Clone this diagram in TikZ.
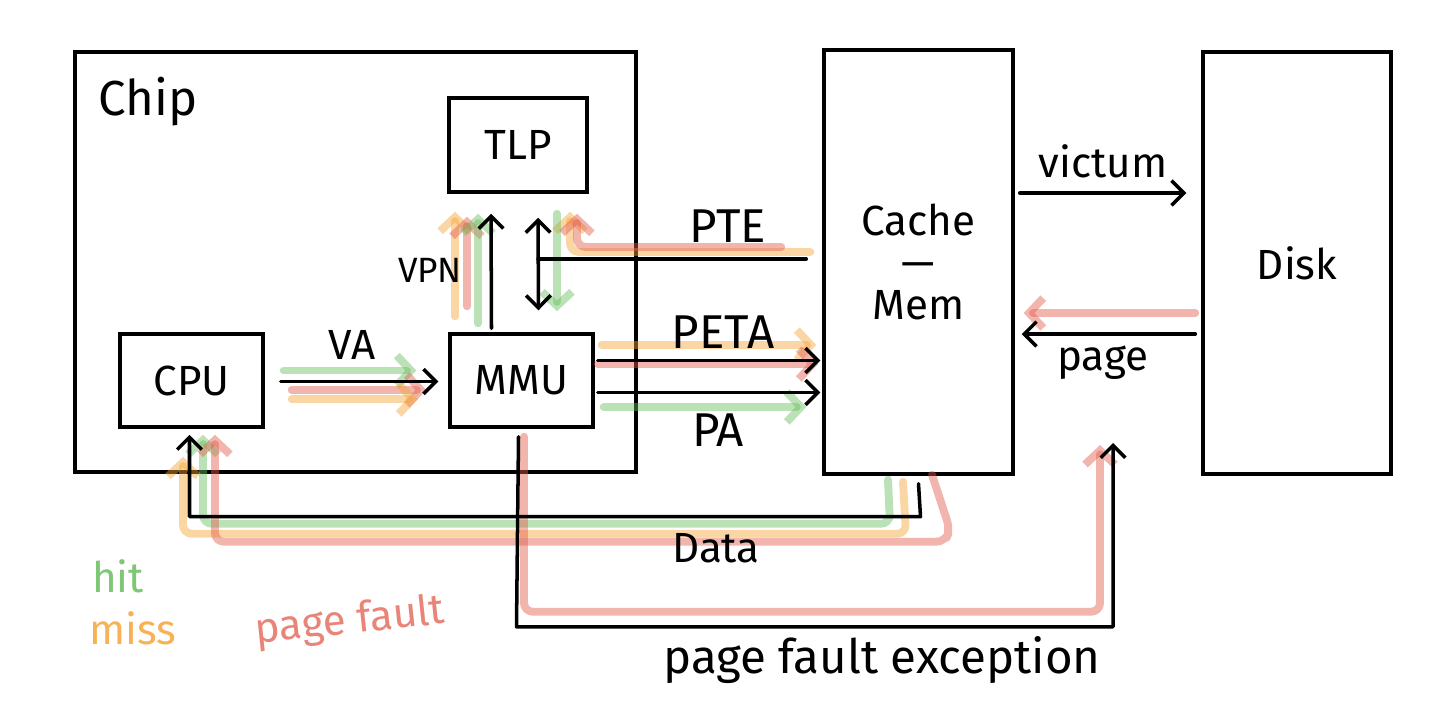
\documentclass[tikz,border=0pt]{standalone}
\usepackage{fontspec}
\setmainfont{Fira Sans}
\usepackage{tikz}
\usetikzlibrary{arrows.meta,positioning}
\definecolor{hitgreen}{RGB}{105,188,95}
\definecolor{missorange}{RGB}{245,165,55}
\definecolor{faultred}{RGB}{225,92,75}

\begin{document}
\begin{tikzpicture}[x=0.02cm, y=-0.02cm,
  box/.style={draw, line width=2pt, inner sep=0pt},
  wire/.style={line width=2pt, line cap=round, line join=round},
  arrowed/.style={-{Straight Barb[length=7pt,width=14pt]}},
  twoway/.style={{Straight Barb[length=7pt,width=14pt]}-{Straight Barb[length=7pt,width=14pt]}},
  lbl/.style={font=\fontsize{24}{24}\selectfont},
  biglbl/.style={font=\fontsize{27}{28}\selectfont},
  brush/.style={line width=4.5pt, line cap=round, line join=round, rounded corners=5pt,
    draw opacity=0.45, -{Straight Barb[length=8pt,width=17pt]}},
  hitpath/.style={brush, draw=hitgreen},
  misspath/.style={brush, draw=missorange},
  faultpath/.style={brush, draw=faultred}]
\useasboundingbox (0,0) rectangle (1436,711);

% Boxes
\node[box, minimum width=11.22cm, minimum height=8.4cm] (chip) at (355.5,262) {};
\node[font=\fontsize{28}{30}\selectfont, anchor=west] (chiplabel) at (92,102) {Chip};
\node[box, lbl, minimum width=2.76cm, minimum height=1.88cm] (tlp) at (518,145) {TLP};
\node[box, lbl, minimum width=2.86cm, minimum height=1.86cm] (cpu) at (191.5,380.5) {CPU};
\node[box, lbl, minimum width=2.86cm, minimum height=1.86cm] (mmu) at (521.5,380.5) {MMU};
\node[box, lbl, align=center, minimum width=3.78cm, minimum height=8.48cm] (cache) at (918.5,262) {Cache\\---\\Mem};
\node[box, lbl, minimum width=3.76cm, minimum height=8.44cm] (disk) at (1297,263) {Disk};
\coordinate (pteend) at (538,259);
\coordinate (pfend) at (1113,443);

% Highlighter strokes: hit / miss / page fault
% VA
\draw[hitpath, shorten >=0.64cm] ([shift={(19,-10)}]cpu.east) coordinate (vah) -- (mmu.west |- vah);
\draw[faultpath, shorten >=0.44cm] ([shift={(27,9.5)}]cpu.east) coordinate (vaf) -- (mmu.west |- vaf);
\draw[misspath, shorten >=0.6cm] ([shift={(27,18.5)}]cpu.east) coordinate (vam) -- (mmu.west |- vam);
% VPN
\draw[misspath, shorten >=0.36cm] ([shift={(-66.5,-16)}]mmu.north) coordinate (vpnm) -- (tlp.south -| vpnm);
\draw[faultpath, shorten >=0.46cm] ([shift={(-54.5,-26)}]mmu.north) coordinate (vpnf) -- (tlp.south -| vpnf);
\draw[hitpath, shorten >=0.4cm] ([shift={(-43.5,-9)}]mmu.north) coordinate (vpnh) -- (tlp.south -| vpnh);
% PTE
\draw[misspath] ([shift={(-12,-10)}]cache.west) -| ([shift={(52,18)}]tlp.south);
\draw[faultpath] ([shift={(-41,-15)}]cache.west) -| ([shift={(59,20)}]tlp.south);
\draw[hitpath] ([shift={(39,20)}]tlp.south) -- ([shift={(35.5,-21)}]mmu.north);
% PETA / PA
\draw[misspath, shorten >=0.12cm] ([shift={(7,-35.5)}]mmu.east) coordinate (petam) -- (cache.west |- petam);
\draw[faultpath, shorten >=0.08cm] ([shift={(3,-16.5)}]mmu.east) coordinate (petaf) -- (cache.west |- petaf);
\draw[hitpath, shorten >=0.32cm] ([shift={(9,26.5)}]mmu.east) coordinate (pah) -- (cache.west |- pah);
% page
\draw[faultpath, shorten >=0.18cm] ([shift={(-6,50)}]disk.west) coordinate (pgf) -- (cache.east |- pgf);
% Data
\draw[hitpath] ([shift={(-30.5,4)}]cache.south) -- ++(2,44) -| ([shift={(11.5,6)}]cpu.south);
\draw[misspath] ([shift={(-15.5,6)}]cache.south) -- ++(3,52) -| ([shift={(-8.5,28)}]cpu.south);
\draw[faultpath] ([shift={(13.5,-1)}]cache.south) -- ++(18,55) -- ++(-5,12) -| ([shift={(23.5,6)}]cpu.south);
% page fault exception
\draw[faultpath] ([shift={(2.5,8)}]mmu.south) -- ++(0,175) -| ([shift={(-13,2)}]pfend);

% Black connectors
\draw[wire, arrowed] ([shift={(16,1)}]cpu.east) -- ([shift={(-10,1)}]mmu.west);
\draw[wire, arrowed] ([shift={(-30,-4)}]mmu.north) -- ([shift={(-27,20)}]tlp.south);
\draw[wire, twoway] ([shift={(20,24)}]tlp.south) -- ([shift={(17,-22)}]mmu.north);
\draw[wire] ([shift={(-16,-3)}]cache.west) -- (pteend);
\draw[wire, arrowed, shorten >=0.04cm] ([shift={(3,-20)}]mmu.east) coordinate (peta) -- (cache.west |- peta);
\draw[wire, arrowed, shorten >=0.04cm] ([shift={(3,12)}]mmu.east) coordinate (pa) -- (cache.west |- pa);
\draw[wire, arrowed, shorten >=0.3cm] ([shift={(5,-69)}]cache.east) coordinate (vic) -- (disk.west |- vic);
\draw[wire, arrowed, shorten >=0.14cm] ([shift={(-6,71)}]disk.west) coordinate (pg) -- (cache.east |- pg);
\draw[wire, arrowed] ([shift={(0,8)}]cache.south) -- ++(2,33) -| ([shift={(-2,6)}]cpu.south);
\draw[wire, arrowed] ([shift={(-3,8)}]mmu.south) -- ++(-2,190) -| (pfend);

% Labels
\node[lbl] (va) at (352,345) {VA};
\node[font=\fontsize{20}{20}\selectfont] (vpn) at (430,270) {VPN};
\node[biglbl] (pte) at (728,226) {PTE};
\node[biglbl] (petalabel) at (723,332) {PETA};
\node[biglbl] (palabel) at (718,430) {PA};
\node[lbl] (victum) at (1103,161) {victum};
\node[lbl] (page) at (1103,363) {page};
\node[lbl] (data) at (716,548) {Data};
\node[biglbl] (pfe) at (882,660) {page fault exception};

% Legend
\node[lbl, text=hitgreen, text opacity=0.85] (hit) at (118,576) {hit};
\node[lbl, text=missorange, text opacity=0.85] (miss) at (133,628) {miss};
\node[lbl, text=faultred, text opacity=0.75, rotate=6] (fault) at (350,622) {page fault};
\end{tikzpicture}
\end{document}
